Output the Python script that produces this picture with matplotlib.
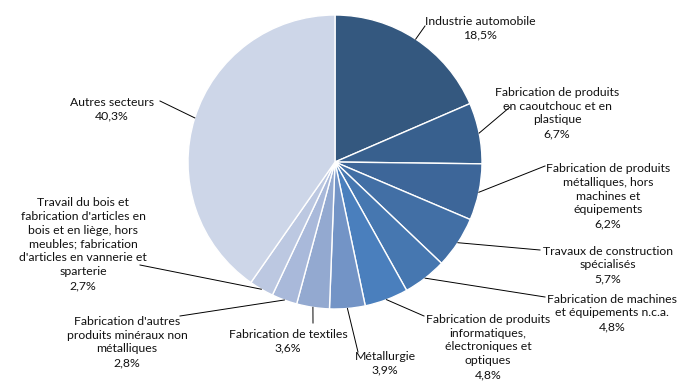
import numpy as np
import matplotlib
matplotlib.use("Agg")
import matplotlib.pyplot as plt

plt.rcParams['font.family'] = ['Lato', 'DejaVu Sans']

# sector shares (%)
sectors = [
    "Industrie automobile",
    "Fabrication de produits\nen caoutchouc et en\nplastique",
    "Fabrication de produits\nmétalliques, hors\nmachines et\néquipements",
    "Travaux de construction\nspécialisés",
    "Fabrication de machines\net équipements n.c.a.",
    "Fabrication de produits\ninformatiques,\nélectroniques et\noptiques",
    "Métallurgie",
    "Fabrication de textiles",
    "Fabrication d'autres\nproduits minéraux non\nmétalliques",
    "Travail du bois et\nfabrication d'articles en\nbois et en liège, hors\nmeubles; fabrication\nd'articles en vannerie et\nsparterie",
    "Autres secteurs",
]
shares = [18.5, 6.7, 6.2, 5.7, 4.8, 4.8, 3.9, 3.6, 2.8, 2.7, 40.3]

colors = ["#34587f", "#38608e", "#3d6699", "#426fa5", "#4677b0", "#4a7fbd",
          "#7394c6", "#93a9d0", "#a9b9da", "#bcc8e1", "#cdd6e8"]

# label block centres and leader-line text ends, in pixels from the top-left
label_pos = [(480, 28), (557, 113), (608, 196), (608, 265), (612, 313),
             (488, 347), (385, 363), (288, 341), (127, 342), (83, 244), (112, 109)]
leader_end = [(425, 26), (510, 107), (545, 166), (540, 250), (545, 297),
              (424, 316), (358, 352), (313, 323), (180, 316), (140, 265), (160, 101)]

W, H = 678, 384
cx, cy, R = 335, 162, 147

fig = plt.figure(figsize=(W / 100, H / 100), dpi=100)
ax = fig.add_axes([0, 0, 1, 1])

wedges, _ = ax.pie(shares, colors=colors, startangle=90, counterclock=False,
                   center=(cx, H - cy), radius=R,
                   wedgeprops=dict(edgecolor="white", linewidth=1.0))
ax.set_xlim(0, W)
ax.set_ylim(0, H)
ax.set_aspect("equal")
ax.axis("off")

for w, name, val, (tx, ty), (lx, ly) in zip(wedges, sectors, shares, label_pos, leader_end):
    mid = np.deg2rad((w.theta1 + w.theta2) / 2)
    ex, ey = cx + R * np.cos(mid), H - cy + R * np.sin(mid)
    ax.plot([ex, lx], [ey, H - ly], color="black", lw=0.7)
    pct = f"{val:.1f}".replace(".", ",")
    ax.text(tx, H - ty, f"{name}\n{pct}%", ha="center", va="center", fontsize=8.8,
            linespacing=1.32, color="#111111")

fig.savefig("out.png", dpi=100)
